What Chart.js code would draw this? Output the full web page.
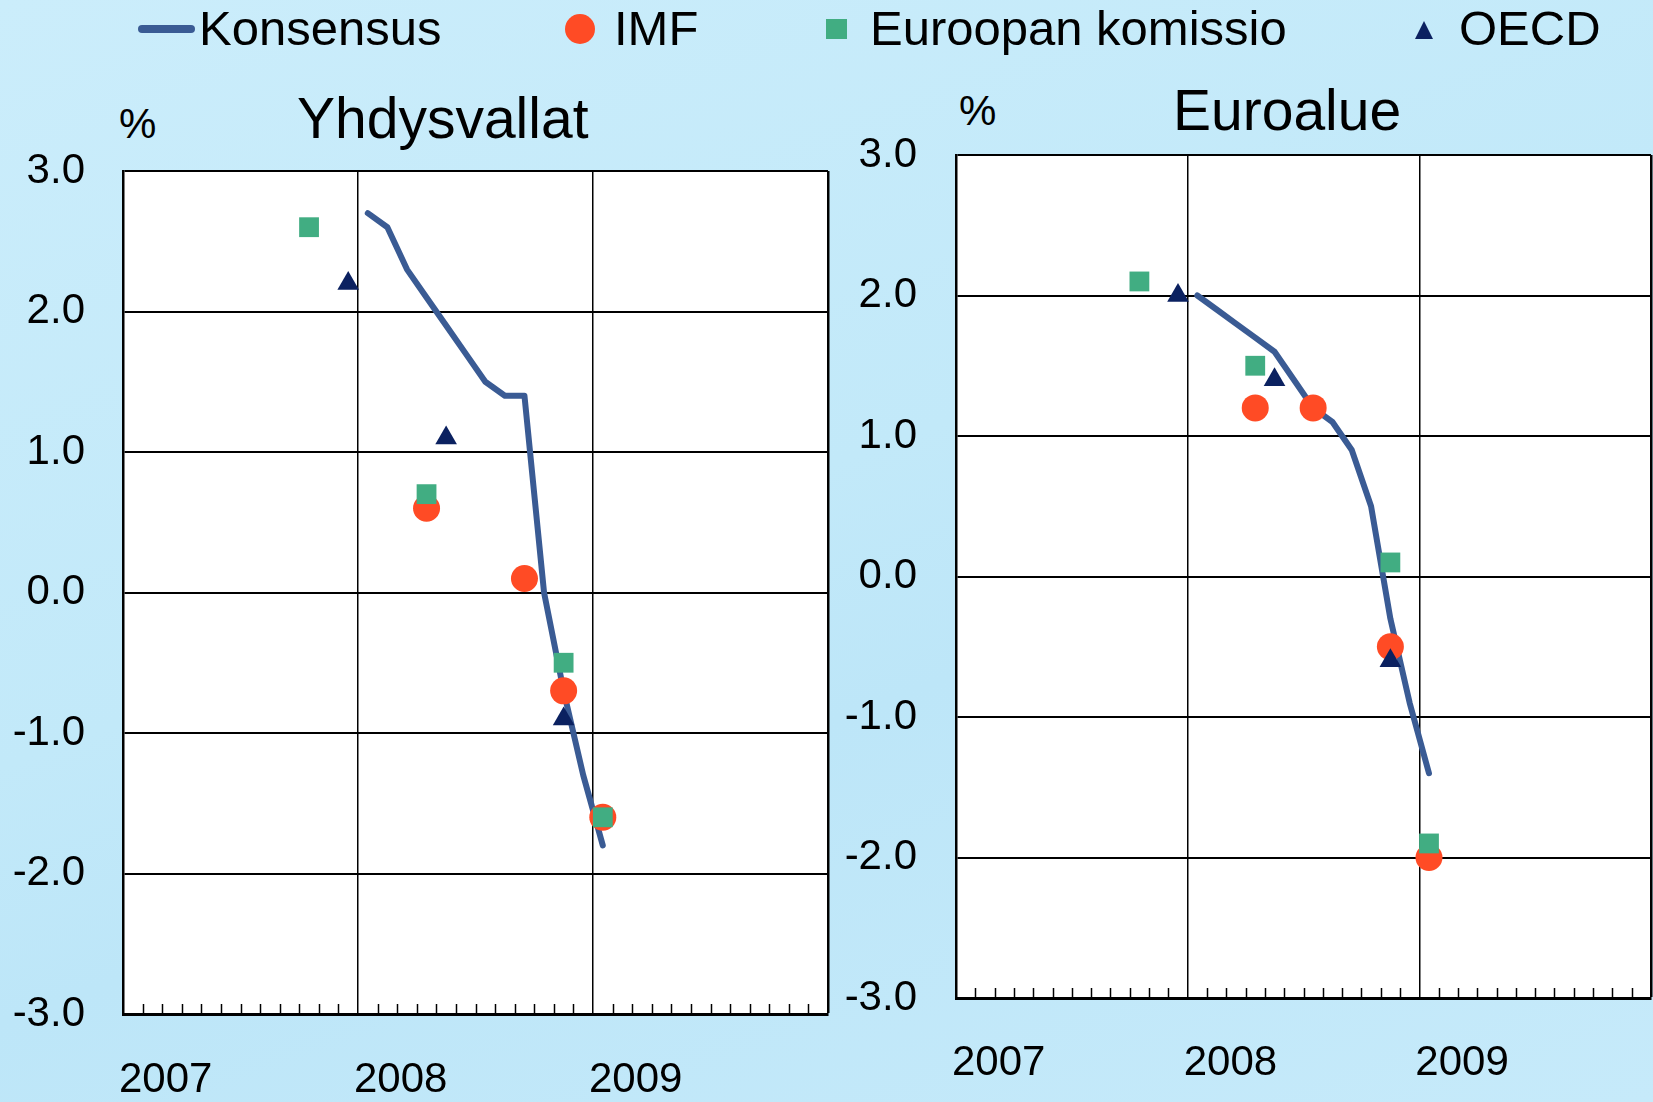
<!DOCTYPE html>
<html>
<head>
<meta charset="utf-8">
<script src="https://cdn.jsdelivr.net/npm/chart.js@4/dist/chart.umd.min.js"></script>
<style>
  body { margin: 0; width: 1653px; height: 1102px; overflow: hidden;
         background: linear-gradient(160deg, #cbedfb 0%, #c2e9f9 45%, #bde6f8 60%, #c6eafa 100%);
         font-family: 'Liberation Sans', Arial, sans-serif; color: #000; position: relative; }
  .txt { position: absolute; white-space: nowrap; line-height: 1; }
  .lg { font-size: 49px; top: 4px; }
  .box { position: absolute; }
</style>
</head>
<body>

<!-- legend -->
<div class="box" style="left:138px;top:25px;width:57px;height:8px;border-radius:4px;background:#3a5b94"></div>
<div class="txt lg" style="left:199px">Konsensus</div>
<div class="box" style="left:565px;top:14px;width:30px;height:30px;border-radius:50%;background:#ff4b25"></div>
<div class="txt lg" style="left:614px">IMF</div>
<div class="box" style="left:826px;top:19px;width:21px;height:20px;background:#41ad82"></div>
<div class="txt lg" style="left:870px">Euroopan komissio</div>
<div class="box" style="left:1415px;top:21px;width:0;height:0;border-left:9.5px solid transparent;border-right:9.5px solid transparent;border-bottom:18px solid #0b2160"></div>
<div class="txt lg" style="left:1459px">OECD</div>

<!-- titles -->
<div class="txt" style="left:119px;top:103px;font-size:42px">%</div>
<div class="txt" style="left:297px;top:90px;font-size:57px">Yhdysvallat</div>
<div class="txt" style="left:959px;top:90px;font-size:42px">%</div>
<div class="txt" style="left:1173px;top:82px;font-size:57px">Euroalue</div>

<canvas id="us" width="888" height="1102" style="position:absolute;left:0;top:0"></canvas>
<canvas id="ea" width="866" height="1102" style="position:absolute;left:845px;top:0"></canvas>

<script>
// consensus forecasts for 2009 growth, monthly
const consensusMonths = ['2008-01','2008-02','2008-03','2008-04','2008-05','2008-06','2008-07',
                         '2008-08','2008-09','2008-10','2008-11','2008-12','2009-01'];
const usConsensus = [2.7, 2.6, 2.3, 2.1, 1.9, 1.7, 1.5, 1.4, 1.4, 0.0, -0.7, -1.3, -1.8];
const eaConsensus = [2.0, 1.9, 1.8, 1.7, 1.6, 1.4, 1.2, 1.1, 0.9, 0.5, -0.3, -0.9, -1.4];

// institutions
const usImfMonths = ['2008-04','2008-09','2008-11','2009-01'];
const usImf = [0.6, 0.1, -0.7, -1.6];
const usEcMonths = ['2007-10','2008-04','2008-11','2009-01'];
const usEc = [2.6, 0.7, -0.5, -1.6];
const usOecdMonths = ['2007-12','2008-05','2008-11'];
const usOecd = [2.2, 1.1, -0.9];

const eaImfMonths = ['2008-04','2008-07','2008-11','2009-01'];
const eaImf = [1.2, 1.2, -0.5, -2.0];
const eaEcMonths = ['2007-10','2008-04','2008-11','2009-01'];
const eaEc = [2.1, 1.5, 0.1, -1.9];
const eaOecdMonths = ['2007-12','2008-05','2008-11'];
const eaOecd = [2.0, 1.4, -0.6];

const yearLabels = ['2007', '2008', '2009'];
const yTicks = [-3, -2, -1, 0, 1, 2, 3];

Chart.defaults.font.family = "'Liberation Sans', Arial, sans-serif";
Chart.defaults.color = '#000';

// month index from Jan 2007, centred in the month
function toX(s) {
    const [y, m] = s.split('-').map(Number);
    return (y - 2007) * 12 + (m - 1) + 0.5;
}
function pts(months, vals) {
    return months.map((m, i) => ({x: toX(m), y: vals[i]}));
}

const plotBg = {
    id: 'plotBg',
    beforeDraw(chart) {
        const a = chart.chartArea;
        chart.ctx.save();
        chart.ctx.fillStyle = '#fff';
        chart.ctx.fillRect(a.left, a.top, a.right - a.left, a.bottom - a.top);
        chart.ctx.restore();
    }
};

// small monthly ticks pointing up from the x axis
const monthTicks = {
    id: 'monthTicks',
    afterDraw(chart) {
        const ctx = chart.ctx, x = chart.scales.x, bottom = chart.chartArea.bottom;
        ctx.save();
        ctx.strokeStyle = '#000';
        ctx.lineWidth = 1.5;
        for (let m = 1; m < 36; m++) {
            if (m % 12 === 0) continue;
            const px = Math.round(x.getPixelForValue(m)) + 0.5;
            ctx.beginPath();
            ctx.moveTo(px, bottom);
            ctx.lineTo(px, bottom - 10);
            ctx.stroke();
        }
        ctx.restore();
    }
};

function makeChart(id, cons, imf, ec, oecd, box) {
    const ctx = document.getElementById(id).getContext('2d');
    return new Chart(ctx, {
        type: 'line',
        data: {
            datasets: [
                {
                    label: 'Euroopan komissio', data: ec, showLine: false, order: 0,
                    pointStyle: 'rect', pointRadius: 14, pointHoverRadius: 14,
                    backgroundColor: '#41ad82', borderWidth: 0
                },
                {
                    label: 'OECD', data: oecd, showLine: false, order: 1,
                    pointStyle: 'triangle', pointRadius: 12.5, pointHoverRadius: 12.5,
                    backgroundColor: '#0b2160', borderWidth: 0
                },
                {
                    label: 'IMF', data: imf, showLine: false, order: 2,
                    pointStyle: 'circle', pointRadius: 13.5, pointHoverRadius: 13.5,
                    backgroundColor: '#ff4b25', borderWidth: 0
                },
                {
                    label: 'Konsensus', data: cons, order: 3,
                    borderColor: '#3a5b94', borderWidth: 6, pointRadius: 0,
                    borderCapStyle: 'round', borderJoinStyle: 'round', tension: 0
                }
            ]
        },
        options: {
            responsive: false,
            animation: false,
            layout: { padding: { top: box.top, right: box.right, left: 0, bottom: 0 } },
            plugins: { legend: { display: false }, tooltip: { enabled: false } },
            scales: {
                x: {
                    type: 'linear', min: 0, max: 36,
                    afterFit: (s) => { s.height = box.xHeight; },
                    afterBuildTicks: (s) => {
                        s.ticks = [];
                        for (let m = 0; m <= 36; m++) s.ticks.push({value: m});
                    },
                    ticks: {
                        autoSkip: false, maxRotation: 0, align: 'start',
                        padding: box.xPad, labelOffset: -4,
                        font: { size: 42 },
                        callback: (v) => (v % 12 === 0 && v / 12 < yearLabels.length) ? yearLabels[v / 12] : ''
                    },
                    grid: {
                        drawTicks: false,
                        color: (c) => (c.tick && c.tick.value % 12 === 0) ? '#000' : 'rgba(0,0,0,0)',
                        lineWidth: (c) => (c.tick && c.tick.value === 36) ? 2.5 : 1.5
                    },
                    border: { color: '#000', width: 3 }
                },
                y: {
                    min: -3, max: 3,
                    afterFit: (s) => { s.width = box.yWidth; },
                    afterBuildTicks: (s) => { s.ticks = yTicks.map(v => ({value: v})); },
                    ticks: {
                        padding: box.yPad,
                        font: { size: 42 },
                        callback: (v) => v.toFixed(1)
                    },
                    grid: { drawTicks: false, color: '#000', lineWidth: 2 },
                    border: { color: '#000', width: 2.5 }
                }
            }
        },
        plugins: [plotBg, monthTicks]
    });
}

makeChart('us',
    pts(consensusMonths, usConsensus),
    pts(usImfMonths, usImf), pts(usEcMonths, usEc), pts(usOecdMonths, usOecd),
    {top: 171, right: 60, xHeight: 88, yWidth: 123, xPad: 41, yPad: 38});

makeChart('ea',
    pts(consensusMonths, eaConsensus),
    pts(eaImfMonths, eaImf), pts(eaEcMonths, eaEc), pts(eaOecdMonths, eaOecd),
    {top: 155, right: 60, xHeight: 104, yWidth: 111, xPad: 40, yPad: 39});
</script>
</body>
</html>
